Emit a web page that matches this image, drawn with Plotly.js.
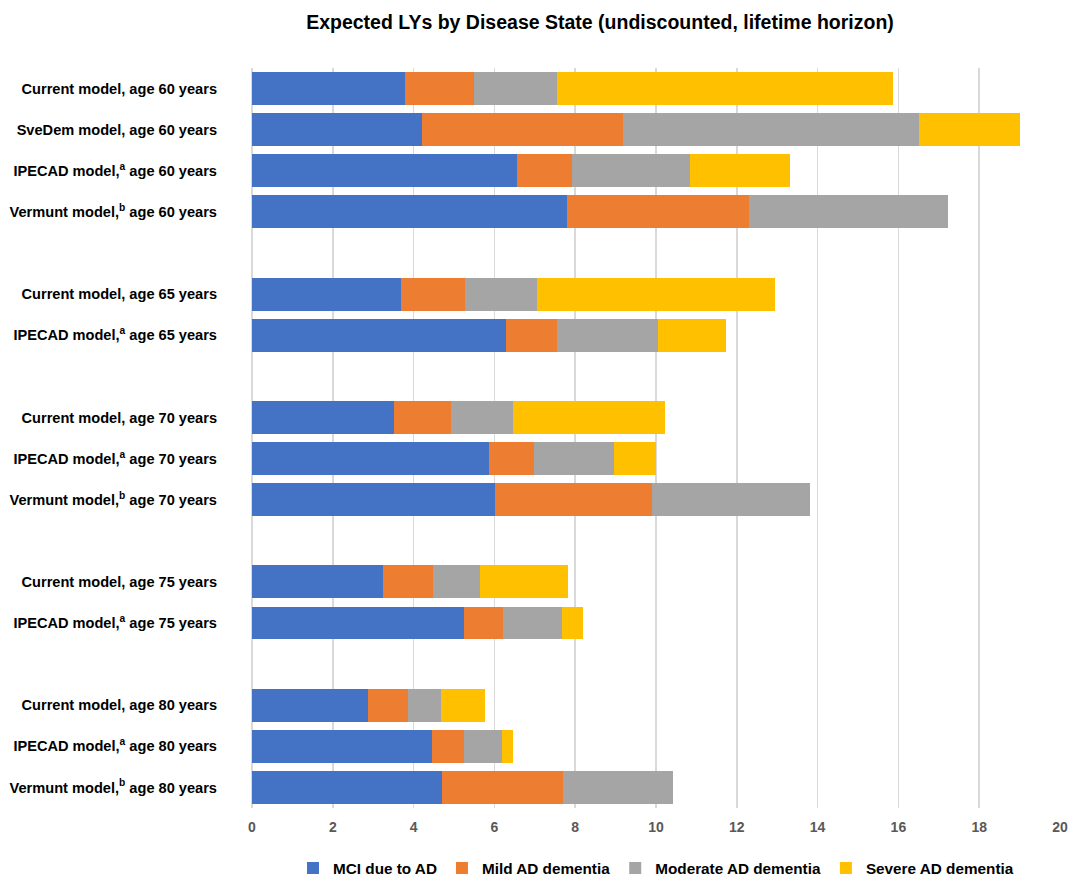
<!DOCTYPE html>
<html>
<head>
<meta charset="utf-8">
<script src="https://cdn.plot.ly/plotly-3.0.1.min.js"></script>
<style>html,body{margin:0;padding:0;background:#fff;}#chart{width:1070px;height:876px;}</style>
</head>
<body>
<div id="chart"></div>
<script>
// Categories (blank entries are spacer rows between age groups)
const categories = [
  "Current model, age 60 years",
  "SveDem model, age 60 years",
  "IPECAD model,<sup>a</sup> age 60 years",
  "Vermunt model,<sup>b</sup> age 60 years",
  " ",
  "Current model, age 65 years",
  "IPECAD model,<sup>a</sup> age 65 years",
  "  ",
  "Current model, age 70 years",
  "IPECAD model,<sup>a</sup> age 70 years",
  "Vermunt model,<sup>b</sup> age 70 years",
  "   ",
  "Current model, age 75 years",
  "IPECAD model,<sup>a</sup> age 75 years",
  "    ",
  "Current model, age 80 years",
  "IPECAD model,<sup>a</sup> age 80 years",
  "Vermunt model,<sup>b</sup> age 80 years"
];

const mci      = [3.79, 4.21, 6.56, 7.80, null, 3.69, 6.29, null, 3.51, 5.87, 6.01, null, 3.24, 5.25, null, 2.87, 4.46, 4.70];
const mild     = [1.70, 4.97, 1.36, 4.50, null, 1.58, 1.26, null, 1.42, 1.11, 3.89, null, 1.24, 0.96, null, 0.99, 0.79, 3.00];
const moderate = [2.06, 7.33, 2.92, 4.93, null, 1.78, 2.50, null, 1.53, 1.98, 3.91, null, 1.16, 1.46, null, 0.82, 0.94, 2.72];
const severe   = [8.32, 2.50, 2.48, 0,    null, 5.90, 1.68, null, 3.76, 1.04, 0,    null, 2.18, 0.52, null, 1.09, 0.27, 0];

const seriesNames = ["MCI due to AD", "Mild AD dementia", "Moderate AD dementia", "Severe AD dementia"];
const xTicks = [0, 2, 4, 6, 8, 10, 12, 14, 16, 18, 20];

const colors = ["#4472C4", "#ED7D31", "#A5A5A5", "#FFC000"];
const seriesData = [mci, mild, moderate, severe];

const traces = seriesData.map((vals, i) => ({
  type: "bar",
  orientation: "h",
  name: "<b>" + seriesNames[i] + "</b>",
  y: categories,
  x: vals,
  marker: {color: colors[i], line: {width: 0}},
  hoverinfo: "x+name"
}));

const plotTop = 68, plotBottom = 808;
const plotH = plotBottom - plotTop;

const layout = {
  width: 1070,
  height: 876,
  barmode: "stack",
  bargap: 0.2,
  paper_bgcolor: "#ffffff",
  plot_bgcolor: "#ffffff",
  margin: {l: 252, r: 10, t: plotTop, b: 876 - plotBottom, autoexpand: false},
  font: {family: "Liberation Sans, Arial, sans-serif"},
  title: {
    text: "<b>Expected LYs by Disease State (undiscounted, lifetime horizon)</b>",
    font: {size: 19.5, color: "#000000", family: "Liberation Sans, Arial, sans-serif"},
    x: 600 / 1070,
    xanchor: "center",
    y: 1 - 22 / 876,
    yanchor: "middle"
  },
  xaxis: {
    range: [0, 20],
    tickvals: xTicks,
    ticktext: xTicks.map(v => "<b>" + v + "</b>"),
    tickfont: {size: 14, color: "#595959"},
    showgrid: true,
    gridcolor: "#d9d9d9",
    gridwidth: 1.5,
    zeroline: true,
    zerolinecolor: "#d9d9d9",
    zerolinewidth: 1.5,
    showline: false,
    ticks: "",
    ticklabelstandoff: 9,
    fixedrange: true
  },
  yaxis: {
    type: "category",
    categoryorder: "array",
    categoryarray: categories,
    autorange: "reversed",
    tickvals: categories,
    ticktext: categories.map(c => c.trim() === "" ? "" : "<b>" + c + "</b>"),
    tickfont: {size: 14.6, color: "#000000"},
    showgrid: false,
    zeroline: false,
    showline: false,
    ticks: "",
    ticklabelstandoff: 34,
    fixedrange: true
  },
  showlegend: true,
  legend: {
    orientation: "h",
    x: 0.5,
    xanchor: "center",
    yref: "container",
    y: 1 - 868 / 876,
    yanchor: "middle",
    font: {size: 15.3, color: "#000000"},
    traceorder: "normal",
    itemwidth: 30,
    itemclick: false
  }
};

Plotly.newPlot("chart", traces, layout, {displayModeBar: false, staticPlot: true});
</script>
</body>
</html>
